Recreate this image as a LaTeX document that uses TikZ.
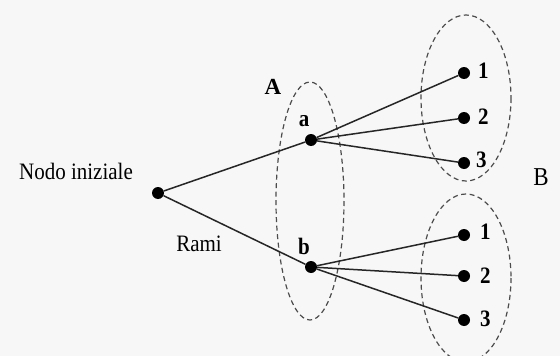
\documentclass[tikz,border=0pt]{standalone}
\usepackage{fontspec}
\setmainfont{Liberation Serif}
\newcommand{\tallt}[1]{\scalebox{1}[1.12]{#1}}
\begin{document}
\begin{tikzpicture}[x=1pt,y=-1pt,
  dot/.style={circle,fill=black,inner sep=0pt,minimum size=12pt},
  branch/.style={line width=1.5pt,draw=black!85},
  setline/.style={draw=black!70,line width=1.2pt,dash pattern=on 5pt off 3.5pt},
  txt/.style={inner sep=0pt,font=\fontsize{21}{23}\selectfont},
  bld/.style={inner sep=0pt,font=\fontsize{21}{23}\selectfont\bfseries},
  lbl/.style={bld,anchor=west}]
\fill[black!3] (0,0) rectangle (560,356);
\useasboundingbox (0,0) rectangle (560,356);
\clip (0,0) rectangle (560,356);
% sets
\draw[setline] (310,201) ellipse [x radius=34, y radius=119];
\draw[setline] (466,98) ellipse [x radius=45, y radius=83];
\draw[setline] (466,278) ellipse [x radius=45, y radius=84];
% nodes
\node[dot] (r) at (158,193) {};
\node[dot] (a) at (311,140) {};
\node[dot] (b) at (311,267) {};
\node[dot] (a1) at (464,73) {};
\node[dot] (a2) at (464,118) {};
\node[dot] (a3) at (464,163) {};
\node[dot] (b1) at (464,235) {};
\node[dot] (b2) at (464,276) {};
\node[dot] (b3) at (464,320) {};
% branches
\draw[branch] (r) -- (a);
\draw[branch] (r) -- (b);
\draw[branch] (a) -- (a1);
\draw[branch] (a) -- (a2);
\draw[branch] (a) -- (a3);
\draw[branch] (b) -- (b1);
\draw[branch] (b) -- (b2);
\draw[branch] (b) -- (b3);
% labels
\node[txt] (lroot) at (76,171) {\tallt{Nodo iniziale}};
\node[txt] (lrami) at (199,244) {\tallt{Rami}};
\node[bld,font=\fontsize{23}{25}\selectfont\bfseries] (lA) at (273,87) {A};
\node[txt,font=\fontsize{23}{25}\selectfont] (lB) at (541,177) {\tallt{B}};
\node[bld] (la) at (304,121) {\tallt{a}};
\node[bld] (lb) at (304,246) {\tallt{b}};
\node[lbl] (la1) at (478,71) {\tallt{1}};
\node[lbl] (la2) at (478,117) {\tallt{2}};
\node[lbl] (la3) at (476,160) {\tallt{3}};
\node[lbl] (lb1) at (480,232) {\tallt{1}};
\node[lbl] (lb2) at (480,276) {\tallt{2}};
\node[lbl] (lb3) at (480,319) {\tallt{3}};
\end{tikzpicture}
\end{document}
